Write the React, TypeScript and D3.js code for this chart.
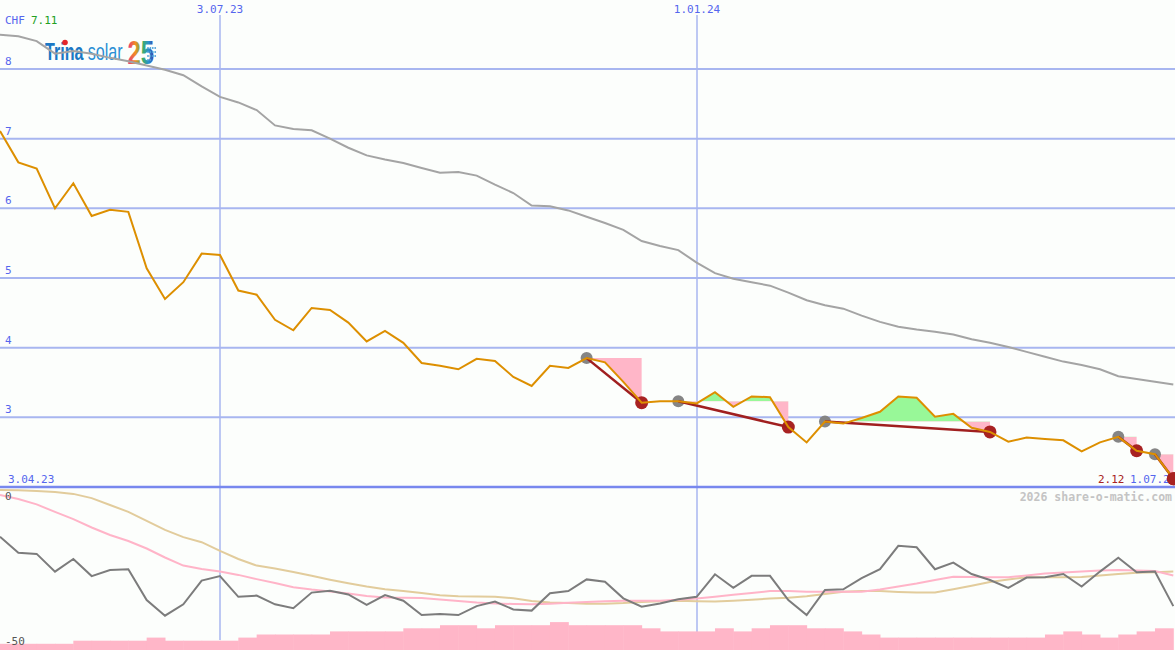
import * as d3 from 'd3';

// weekly closes, CHF
const price = [
  7.11, 6.66, 6.57, 6.0, 6.36, 5.89, 5.98, 5.95, 5.14, 4.7, 4.94, 5.35, 5.33,
  4.82, 4.76, 4.4, 4.25, 4.57, 4.54, 4.36, 4.09, 4.24, 4.07, 3.78, 3.74, 3.69,
  3.84, 3.81, 3.58, 3.45, 3.74, 3.71, 3.85, 3.79, 3.51, 3.21, 3.23, 3.23, 3.2,
  3.36, 3.15, 3.3, 3.29, 2.86, 2.64, 2.94, 2.91, 2.99, 3.08, 3.3, 3.28, 3.01,
  3.05, 2.85, 2.79, 2.65, 2.71, 2.69, 2.67, 2.51, 2.64, 2.72, 2.52, 2.47, 2.12,
];

// long moving average (grey)
const avgLong = [
  8.49, 8.47, 8.4, 8.22, 8.26, 8.22, 8.16, 8.11, 8.05, 7.99, 7.91, 7.75, 7.6,
  7.52, 7.41, 7.19, 7.14, 7.12, 7.0, 6.87, 6.76, 6.7, 6.65, 6.58, 6.51, 6.52,
  6.47, 6.34, 6.22, 6.04, 6.03, 5.97, 5.88, 5.79, 5.69, 5.53, 5.46, 5.4, 5.22,
  5.07, 4.99, 4.94, 4.89, 4.79, 4.68, 4.61, 4.56, 4.46, 4.37, 4.3, 4.26, 4.23,
  4.19, 4.12, 4.07, 4.01, 3.94, 3.87, 3.8, 3.75, 3.69, 3.59, 3.55, 3.51, 3.47,
];

// lower panel: momentum and its two averages
const momentum = [
  -15.6, -20.9, -21.3, -27.2, -23.0, -28.7, -26.7, -26.4, -36.7, -41.9, -38.1,
  -30.2, -28.7, -35.6, -35.2, -38.1, -39.4, -34.2, -33.6, -34.8, -38.3, -35.0,
  -36.9, -41.7, -41.3, -41.7, -38.7, -37.2, -39.8, -40.2, -34.4, -33.7, -29.8,
  -30.6, -36.1, -38.9, -37.8, -36.4, -35.6, -28.1, -32.6, -28.6, -28.6, -36.7,
  -41.7, -33.3, -33.1, -29.4, -26.4, -18.6, -19.1, -26.4, -24.2, -28.0, -30.0,
  -32.6, -29.2, -29.1, -28.0, -32.2, -27.2, -22.6, -27.4, -27.2, -38.7,
];

const momFast = [
  -1.7, -3.0, -4.8, -7.3, -9.7, -12.5, -15.0, -17.0, -19.5, -22.5, -25.2, -26.3,
  -27.2, -28.3, -29.7, -31.0, -32.4, -33.2, -33.8, -34.5, -35.3, -35.8, -35.9,
  -36.0, -36.5, -37.0, -37.5, -37.8, -38.0, -38.1, -37.9, -37.6, -37.3, -37.1,
  -36.9, -36.9, -36.9, -36.6, -36.2, -35.6, -34.9, -34.3, -33.7, -33.7, -33.9,
  -33.9, -33.9, -33.9, -33.2, -32.2, -31.2, -30.0, -28.9, -29.0, -29.1, -29.1,
  -28.5, -27.8, -27.5, -27.2, -26.8, -26.7, -26.8, -27.0, -28.5,
];

const momSlow = [
  0.0, -0.1, -0.3, -0.7, -1.3, -2.7, -5.0, -7.3, -10.3, -13.3, -15.7, -17.4,
  -20.3, -23.0, -25.2, -26.2, -27.3, -28.6, -29.9, -31.1, -32.2, -33.1, -33.7,
  -34.3, -35.1, -35.4, -35.5, -35.6, -36.1, -37.0, -37.5, -37.7, -37.9, -37.9,
  -37.7, -37.3, -37.1, -36.9, -37.1, -37.2, -36.9, -36.6, -36.2, -35.9, -35.4,
  -34.7, -33.9, -33.7, -33.7, -34.0, -34.2, -34.2, -33.1, -31.9, -30.7, -29.8,
  -29.1, -29.1, -29.1, -29.0, -28.5, -28.0, -27.6, -27.4, -27.2,
];

// volume blocks, one per week interval
const volume = [
  2, 2, 2, 2, 3, 3, 3, 3, 4, 3, 3, 3, 3, 4, 5, 5, 5, 5, 6, 6, 6, 6, 7, 7, 8, 8,
  7, 8, 8, 8, 9, 8, 8, 8, 8, 7, 6, 6, 6, 7, 6, 7, 8, 8, 7, 7, 6, 5, 4, 4, 4, 4,
  4, 4, 4, 4, 4, 5, 6, 5, 4, 5, 6, 7,
];

// signal trades: week index of entry (grey) and exit (red)
const entries = [32, 37, 45, 61, 63];
const exits = [35, 43, 54, 62, 64];

const yTicks = [3, 4, 5, 6, 7, 8];
const dateMarks = ['2023-07-03', '2024-01-01'];
const dateMarkLabels = ['3.07.23', '1.01.24'];

const W = 1175;
const H = 650;
const MONO = '"DejaVu Sans Mono", monospace';
const GRID = '#a8b6f0';
const LABEL = '#5566ee';

export default function App() {
  const start = new Date(2023, 3, 10);
  const dates = price.map((_, i) => d3.timeDay.offset(start, i * 7));

  const x = d3.scaleTime().domain([dates[0], dates[dates.length - 1]]).range([0, 1173.3]);
  const y = d3.scaleLinear().domain([2, 8]).range([487, 69]);
  const yLow = d3.scaleLinear().domain([-50, 0]).range([640, 490]);
  const yVol = d3.scaleLinear().domain([0, 10]).range([650, 619]);

  const lineMain = d3.line<number>().x((_, i) => x(dates[i])).y((d) => y(d));
  const lineLow = d3.line<number>().x((_, i) => x(dates[i])).y((d) => yLow(d));

  const trades = entries.map((e, k) => {
    const idx = d3.range(e, exits[k] + 1);
    const level = y(price[e]);
    const area = d3
      .area<number>()
      .x((i) => x(dates[i]))
      .y0(level)
      .y1((i) => y(price[i]));
    return { e, x0: exits[k], idx, level, path: area(idx) || '' };
  });

  return (
    <svg
      width={W}
      height={H}
      style={{ position: 'absolute', left: 0, top: 0, background: '#fcfefc' }}
    >
      <defs>
        {trades.map((t, k) => (
          <g key={k}>
            <clipPath id={`up${k}`}>
              <rect x={0} y={0} width={W} height={t.level} />
            </clipPath>
            <clipPath id={`dn${k}`}>
              <rect x={0} y={t.level} width={W} height={H} />
            </clipPath>
          </g>
        ))}
        <linearGradient id="logo25" x1="0" y1="0" x2="1" y2="0">
          <stop offset="0" stopColor="#e83080" />
          <stop offset="0.3" stopColor="#f09020" />
          <stop offset="0.55" stopColor="#40b060" />
          <stop offset="0.8" stopColor="#2890d0" />
          <stop offset="1" stopColor="#3a3aa0" />
        </linearGradient>
      </defs>

      {/* grid */}
      {yTicks.map((t) => (
        <g key={t}>
          <line x1={0} x2={W} y1={y(t)} y2={y(t)} stroke={GRID} strokeWidth={2} />
          <text x={5} y={y(t) - 4} fontFamily={MONO} fontSize={11} fill={LABEL}>
            {t}
          </text>
        </g>
      ))}
      {dateMarks.map((d, i) => {
        const xx = Math.round(x(new Date(d + 'T00:00:00')));
        return (
          <g key={d}>
            <line x1={xx} x2={xx} y1={15} y2={640} stroke={GRID} strokeWidth={1.5} />
            <text x={xx} y={13} textAnchor="middle" fontFamily={MONO} fontSize={11} fill={LABEL}>
              {dateMarkLabels[i]}
            </text>
          </g>
        );
      })}
      <line x1={0} x2={W} y1={487} y2={487} stroke="#7888ee" strokeWidth={2.5} />

      {/* logo, squeezed horizontally */}
      <g transform="translate(45,60) scale(0.7,1)">
        <text x={0} y={0} fontFamily="Liberation Sans, Arial" fontWeight="bold" fontSize={23} fill="#1b78c4">
          Trina
        </text>
        <text x={61} y={0} fontFamily="Liberation Sans, Arial" fontSize={23} fill="#2a8fd4">
          solar
        </text>
        <text x={118} y={4} fontFamily="Liberation Sans, Arial" fontWeight="bold" fontSize={34} fill="url(#logo25)">
          25
        </text>
      </g>
      <circle cx={65} cy={42.5} r={2.8} fill="#e3262a" />
      {d3.range(14).map((i) => (
        <circle key={i} cx={148 + (i % 4) * 2.4} cy={48 + Math.floor(i / 4) * 4} r={0.9} fill="#4aa0d8" />
      ))}

      {/* header */}
      <text x={5} y={24} fontFamily={MONO} fontSize={11} fill={LABEL}>CHF</text>
      <text x={31} y={24} fontFamily={MONO} fontSize={11} fill="#22a022">7.11</text>

      {/* trade fills */}
      {trades.map((t, k) => (
        <g key={k}>
          <path d={t.path} fill="#98f898" clipPath={`url(#up${k})`} />
          <path d={t.path} fill="#ffb6c8" clipPath={`url(#dn${k})`} />
        </g>
      ))}

      {/* long average */}
      <path d={lineMain(avgLong) || ''} fill="none" stroke="#a4a4a4" strokeWidth={2} />

      {/* signal dots */}
      {trades.map((t, k) => (
        <g key={k}>
          <circle cx={x(dates[t.e])} cy={y(price[t.e])} r={6} fill="#858585" />
          <circle cx={x(dates[t.x0])} cy={y(price[t.x0])} r={6.5} fill="#a82222" />
          <line
            x1={x(dates[t.e])}
            y1={y(price[t.e])}
            x2={x(dates[t.x0])}
            y2={y(price[t.x0])}
            stroke="#a01f1f"
            strokeWidth={2.5}
          />
        </g>
      ))}

      {/* price */}
      <path d={lineMain(price) || ''} fill="none" stroke="#dd8f00" strokeWidth={2} />

      {/* bottom labels of the price panel */}
      <text x={8} y={483} fontFamily={MONO} fontSize={11} fill={LABEL}>3.04.23</text>
      <text x={1098} y={483} fontFamily={MONO} fontSize={11} fill="#a82222">2.12</text>
      <text x={1130} y={483} fontFamily={MONO} fontSize={11} fill={LABEL}>1.07.24</text>
      <circle cx={x(dates[64])} cy={y(price[64])} r={6.5} fill="#a82222" />
      <text x={1172} y={501} textAnchor="end" fontFamily={MONO} fontSize={11.5} fontWeight="bold" fill="#c4c4c4">
        2026 share-o-matic.com
      </text>

      {/* lower panel */}
      {volume.map((v, i) => (
        <rect
          key={i}
          x={x(dates[i])}
          y={yVol(v)}
          width={x(dates[i + 1]) - x(dates[i]) + 0.5}
          height={650 - yVol(v)}
          fill="#ffb6c8"
        />
      ))}
      <path d={lineLow(momSlow) || ''} fill="none" stroke="#e2cc9c" strokeWidth={2} />
      <path d={lineLow(momFast) || ''} fill="none" stroke="#ffb4c8" strokeWidth={2} />
      <path d={lineLow(momentum) || ''} fill="none" stroke="#7c7c7c" strokeWidth={2} />
      <text x={5} y={500} fontFamily={MONO} fontSize={11} fill="#555">0</text>
      <text x={5} y={645} fontFamily={MONO} fontSize={11} fill="#555">-50</text>
    </svg>
  );
}
